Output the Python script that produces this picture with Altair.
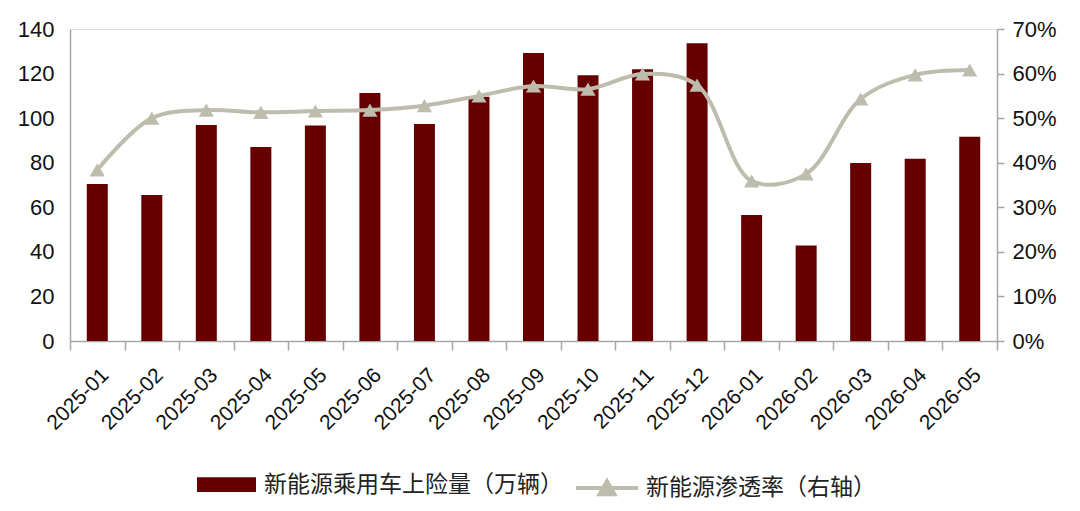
import altair as alt
import pandas as pd

months = ["2025-01", "2025-02", "2025-03", "2025-04", "2025-05", "2025-06",
          "2025-07", "2025-08", "2025-09", "2025-10", "2025-11", "2025-12",
          "2026-01", "2026-02", "2026-03", "2026-04", "2026-05"]
volumes = [70.5, 65.5, 96.9, 87.0, 96.7, 111.3, 97.4, 109.6, 129.2, 119.2,
           121.9, 133.6, 56.5, 42.8, 79.9, 81.8, 91.7]
rates = [0.384, 0.500, 0.518, 0.513, 0.516, 0.518, 0.528, 0.550, 0.572, 0.565,
         0.599, 0.574, 0.359, 0.375, 0.543, 0.597, 0.608]

bar_name = "新能源乘用车上险量（万辆）"
line_name = "新能源渗透率（右轴）"

df = pd.DataFrame({
    "month": months,
    "volume": volumes,
    "rate": rates,
    "s1": [bar_name] * len(months),
    "s2": [line_name] * len(months),
})

BAR = "#660000"
LINE = "#BEBDAD"
AXIS = "#A6A6A6"
NUMFONT = "Liberation Sans"
CJK = "Noto Sans CJK SC"

x = alt.X(
    "month:N",
    sort=months,
    title=None,
    scale=alt.Scale(paddingInner=0, paddingOuter=0),
    axis=alt.Axis(
        labelAngle=-45, labelFontSize=21, labelFont=NUMFONT, labelColor="#111111",
        tickBand="extent", tickSize=9, tickColor=AXIS, tickWidth=1.5,
        domainColor=AXIS, domainWidth=1.5, labelPadding=14,
    ),
)

bars = alt.Chart(df).mark_bar(width=alt.RelativeBandSize(0.385)).encode(
    x=x,
    y=alt.Y(
        "volume:Q", title=None,
        scale=alt.Scale(domain=[0, 140], nice=False),
        axis=alt.Axis(
            values=[0, 20, 40, 60, 80, 100, 120, 140], ticks=False, grid=False,
            labelFontSize=22, labelFont=NUMFONT, labelColor="#111111", labelPadding=16,
            domainColor=AXIS, domainWidth=1.5,
        ),
    ),
    fill=alt.Fill(
        "s1:N", title=None,
        scale=alt.Scale(domain=[bar_name], range=[BAR]),
        legend=alt.Legend(
            orient="none", legendX=127, legendY=426, title=None,
            symbolType="M-1,-0.25H1V0.25H-1Z", symbolSize=3481,
            symbolStrokeWidth=0, symbolOpacity=1, symbolFillColor=BAR,
            labelFont=CJK, labelFontSize=23, labelColor="#222222", labelLimit=500,
            labelOffset=8, padding=0,
        ),
    ),
)

y2 = alt.Y(
    "rate:Q", title=None,
    scale=alt.Scale(domain=[0, 0.7], nice=False),
    axis=alt.Axis(
        orient="right", values=[0, 0.1, 0.2, 0.3, 0.4, 0.5, 0.6, 0.7], format=".0%",
        grid=False, tickSize=7, tickColor=AXIS, tickWidth=1.5,
        labelFontSize=22, labelFont=NUMFONT, labelColor="#111111", labelPadding=8,
        domainColor=AXIS, domainWidth=1.5,
    ),
)

line = alt.Chart(df).mark_line(interpolate="catmull-rom", strokeWidth=4).encode(
    x=x,
    y=y2,
    stroke=alt.Stroke(
        "s2:N", title=None,
        scale=alt.Scale(domain=[line_name], range=[LINE]),
        legend=alt.Legend(
            orient="none", legendX=504, legendY=426, title=None,
            symbolType="M-1,0H1M-0.24,0.2L0,-0.22L0.24,0.2Z", symbolSize=3844,
            symbolStrokeWidth=4, symbolFillColor=LINE, symbolStrokeColor=LINE,
            symbolOpacity=1,
            labelFont=CJK, labelFontSize=23, labelColor="#222222", labelLimit=500,
            labelOffset=6, padding=0,
        ),
    ),
)

points = alt.Chart(df).mark_point(
    shape="triangle-up", filled=True, size=230, color=LINE, opacity=1
).encode(
    x=x,
    y=y2,
)

chart = (
    alt.layer(bars, alt.layer(line, points))
    .resolve_scale(y="independent")
    .properties(
        width=927, height=312,
        autosize=alt.AutoSizeParams(type="none"),
        padding={"left": 62, "top": 21, "right": 74, "bottom": 160},
    )
    .configure_view(stroke=None)
    .configure(background="white")
)

chart.save("out.html", embed_options={"renderer": "svg", "actions": False})
